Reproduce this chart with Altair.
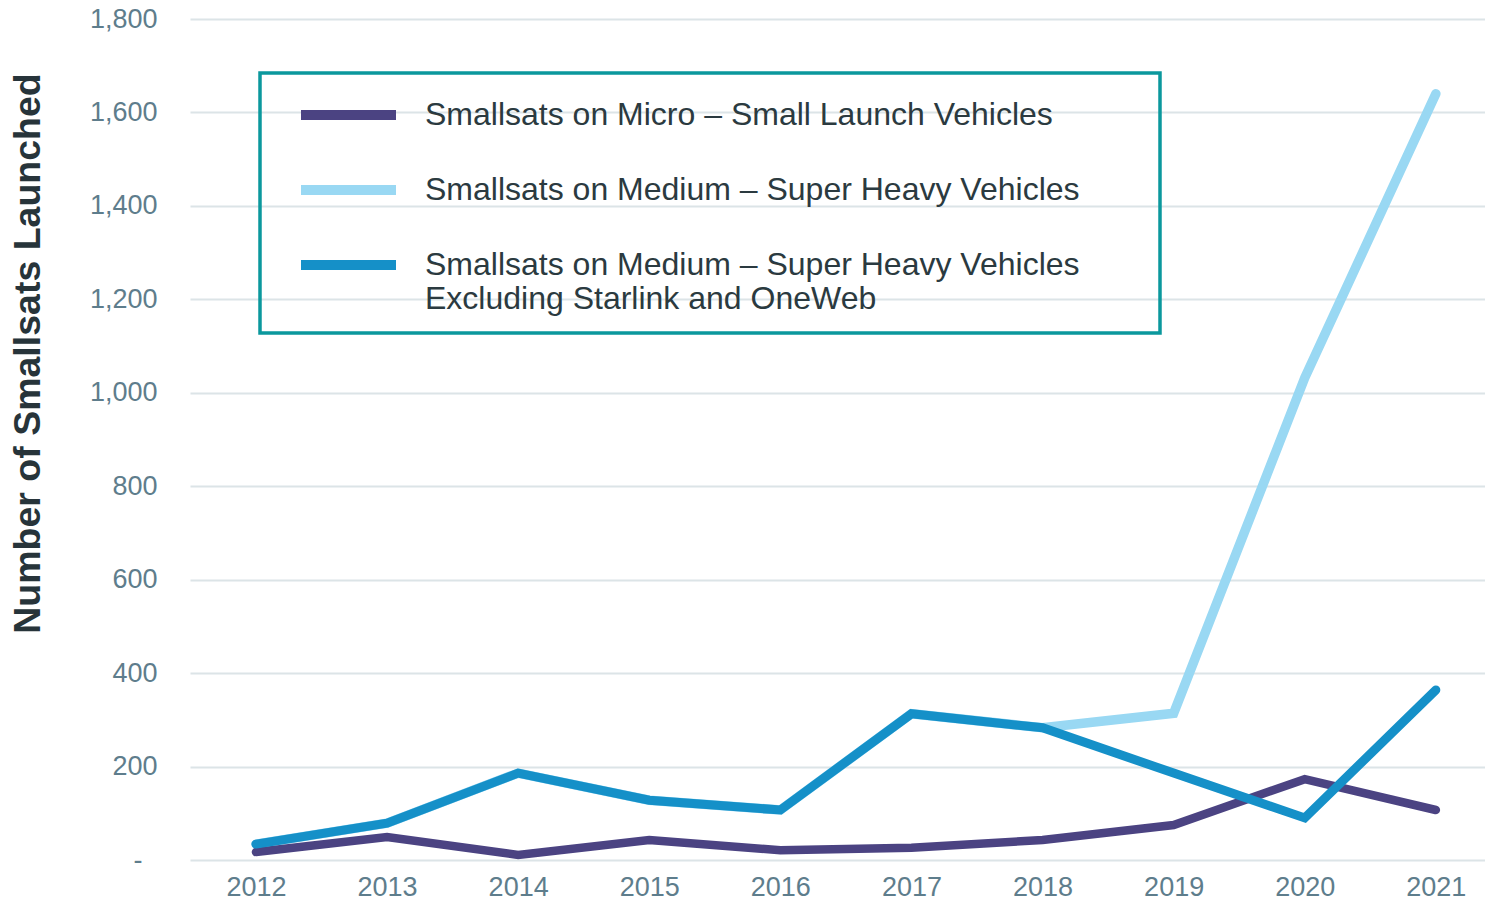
import altair as alt
import pandas as pd

years = ["2012", "2013", "2014", "2015", "2016", "2017", "2018", "2019", "2020", "2021"]
micro_small = [17, 49, 11, 43, 21, 26, 43, 75, 173, 107]
medium_all = [34, 79, 186, 128, 107, 313, 283, 314, 1032, 1640]
medium_excl = [34, 79, 186, 128, 107, 313, 283, 186, 90, 364]

s1 = "Smallsats on Micro – Small Launch Vehicles"
s2 = "Smallsats on Medium – Super Heavy Vehicles"
s3 = "Smallsats on Medium – Super Heavy Vehicles Excluding Starlink and OneWeb"
series_names = [s1, s2, s3]
colors = ["#4b4382", "#99d8f3", "#1590c8"]

rows = []
for name, vals in zip(series_names, [micro_small, medium_all, medium_excl]):
    for y, v in zip(years, vals):
        rows.append({"Year": y, "Value": v, "Series": name})
df = pd.DataFrame(rows)

FONT = "Liberation Sans"
PAD = "\u00a0" * 7 + "\u200b"

color = alt.Color(
    "Series:N",
    scale=alt.Scale(domain=series_names, range=colors),
    legend=alt.Legend(
        title=None,
        orient="none",
        legendX=70,
        legendY=54,
        symbolType="M-2.5,0H2.5",
        symbolStrokeWidth=10,
        symbolSize=1444,
        symbolOffset=46.5,
        labelFontSize=32,
        labelFont=FONT,
        labelColor="#2b3a40",
        labelLimit=2000,
        labelOffset=52.5,
        rowPadding=31,
        padding=18,
        strokeColor="#0b989d",
        labelExpr=(
            "indexof(datum.label, 'Excluding') > 0 ? "
            "split(replace(datum.label, ' Excluding', '|Excluding'), '|') : "
            "(indexof(datum.label, 'Medium') > 0 ? datum.label + '" + PAD + "' : datum.label)"
        ),
    ),
)

x = alt.X(
    "Year:O",
    scale=alt.Scale(type="point", padding=0.439, align=0.573),
    axis=alt.Axis(
        title=None, labelAngle=0, domain=False, ticks=False, grid=False,
        labelFontSize=27, labelFont=FONT, labelColor="#5e7d8c", labelPadding=14,
    ),
)
y = alt.Y(
    "Value:Q",
    scale=alt.Scale(domain=[0, 1800], nice=False),
    axis=alt.Axis(
        title="Number of Smallsats Launched",
        values=list(range(0, 1801, 200)),
        labelExpr="datum.value == 0 ? '-\u00a0\u00a0\u200b' : format(datum.value, ',')",
        domain=False, ticks=False,
        gridColor="#dce4e7", gridWidth=2,
        labelFontSize=27, labelFont=FONT, labelColor="#5e7d8c", labelPadding=33,
        titleFontSize=37.5, titleFont=FONT, titleFontWeight="bold", titleColor="#27343a",
        titlePadding=42, titleY=334, titleAlign="center",
    ),
)

base = alt.Chart(df).encode(x=x, y=y, color=color)

def layer_for(name, width):
    return base.transform_filter(alt.datum.Series == name).mark_line(
        strokeWidth=width, strokeCap="round"
    )

chart = alt.layer(
    layer_for(s2, 9.5),
    layer_for(s1, 8.5),
    layer_for(s3, 9),
).properties(
    width=1295,
    height=841,
    autosize=alt.AutoSizeParams(type="none"),
    padding={"left": 182, "top": 11, "right": 0, "bottom": 40},
).configure_view(stroke=None).configure_legend(strokeWidth=3.5)

chart.save("out.html", embed_options={"renderer": "svg", "actions": False})
